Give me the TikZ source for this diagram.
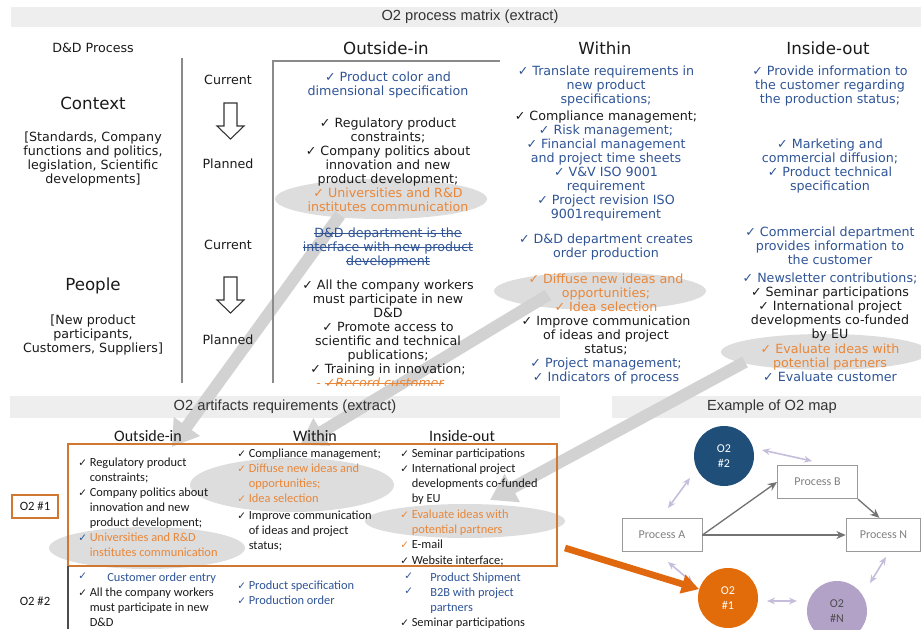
\documentclass[tikz,border=0pt]{standalone}
\usepackage{fontspec}
\setmainfont{DejaVu Sans}
\newfontfamily\dv{DejaVu Sans}
\newfontfamily\carl{Carlito}
\newfontfamily\arl{Liberation Sans}
\usetikzlibrary{arrows.meta}
\definecolor{bl}{HTML}{2F5496}
\definecolor{org}{HTML}{E8873A}
\definecolor{txt}{HTML}{1A1A1A}
\definecolor{ttxt}{HTML}{333333}
\definecolor{bandc}{HTML}{EEEEEE}
\definecolor{ellc}{HTML}{DDDDDD}
\definecolor{garrow}{HTML}{D2D2D2}
\definecolor{oboxc}{HTML}{D2772F}
\definecolor{oarrow}{HTML}{E0680F}
\definecolor{ctwo}{HTML}{1F4E79}
\definecolor{cone}{HTML}{E36C0A}
\definecolor{cenn}{HTML}{B3A2C7}
\definecolor{parr}{HTML}{C5BDDB}
\definecolor{procl}{HTML}{9A9A9A}
\definecolor{proct}{HTML}{808080}
\definecolor{gridc}{HTML}{8A8A8A}
\newcommand\mychk{{\dv\fontsize{7.8}{8}\selectfont ✓}}
\newcommand\mystrike[1]{\setbox0=\hbox{#1}\rlap{\rule[0.28em]{\wd0}{0.07em}}\box0}
\begin{document}
\begin{tikzpicture}[x=0.75pt,y=-0.75pt,
  mt/.style={font=\dv\fontsize{9.5}{10.5}\selectfont, align=center, inner sep=0pt, anchor=north, text=txt, yshift=-1.5pt},
  cp/.style={font=\dv\fontsize{9.5}{10.5}\selectfont, inner sep=0pt, text=txt},
  hd/.style={font=\dv\fontsize{12.5}{14}\selectfont, inner sep=0pt, text=txt},
  lt/.style={font=\carl\fontsize{9.3}{11.25}\selectfont, align=left, inner sep=0pt, anchor=north west, text=txt, yshift=-1.5pt},
  lh/.style={font=\carl\fontsize{12}{14}\selectfont, inner sep=0pt, text=txt},
  ttl/.style={font=\arl\fontsize{11}{13}\selectfont, text=ttxt, inner sep=0pt},
  gridl/.style={draw=gridc, line width=1.1pt},
  bigarrow/.style={draw=garrow, line width=9pt, -{Triangle[length=19pt,width=23pt]}},
  darr/.style={draw=black!80, line width=0.8pt, fill=white},
  proc/.style={draw=procl, fill=white, line width=0.7pt, minimum width=60pt, minimum height=25pt, inner sep=0pt, font=\carl\fontsize{9}{10}\selectfont, text=proct},
  oc/.style={circle, inner sep=0pt, minimum size=45pt, align=center, font=\carl\fontsize{9}{11}\selectfont, text=white},
  parrow/.style={draw=parr, line width=1.2pt, {Stealth[length=6pt,width=5pt]}-{Stealth[length=6pt,width=5pt]}},
  garr/.style={draw=black!55, line width=1pt, -{Stealth[length=7pt,width=6pt]}}
]
\useasboundingbox (0,0) rectangle (921,629);
% bands
\fill[bandc] (11,7) rectangle (921,27);
\fill[bandc] (10,396) rectangle (560,418);
\fill[bandc] (612,396) rectangle (921,418);
% ellipses
\fill[ellc] (381,199) ellipse [x radius=106, y radius=20];
\fill[ellc] (600,291) ellipse [x radius=106, y radius=19];
\fill[ellc] (825,352) ellipse [x radius=104, y radius=18];
\fill[ellc] (147,548) ellipse [x radius=98, y radius=21];
\fill[ellc] (292,485) ellipse [x radius=102, y radius=27];
\fill[ellc] (465,521) ellipse [x radius=100, y radius=17];
% big grey arrows
\coordinate (ga1s) at (340,215); \coordinate (ga1e) at (172,447);
\coordinate (ga2s) at (548,295); \coordinate (ga2e) at (300,445);
\coordinate (ga3s) at (745,362); \coordinate (ga3e) at (490,500);
\draw[bigarrow] (ga1s) -- (ga1e);
\draw[bigarrow] (ga2s) -- (ga2e);
\draw[bigarrow] (ga3s) -- (ga3e);
% titles
\node[ttl] (t1) at (470,17) {O2 process matrix (extract)};
\node[ttl] (t2) at (285,407) {O2 artifacts requirements (extract)};
\node[ttl] (t3) at (772,407) {Example of O2 map};
% headers
\node[cp] (dd) at (93,48) {D\&D Process};
\node[hd] (hOI) at (386,48) {Outside-in};
\node[hd] (hW) at (605,48) {Within};
\node[hd] (hIO) at (828,48) {Inside-out};
% grid lines
\draw[gridl] (182,58) -- (182,383);
\draw[gridl] (273,383) -- (273,61) -- (500,61);
% left column
\node[hd] (ctx) at (93,103) {Context};
\node[mt] (ctxd) at (93,130) {[Standards, Company\\functions and politics,\\legislation, Scientific\\developments]};
\node[hd] (ppl) at (93,286) {People};
\node[mt] (ppld) at (93,313) {[New product\\participants,\\Customers, Suppliers]};
\node[cp] (cur1) at (228,80) {Current};
\node[cp] (pl1) at (228,164) {Planned};
\node[cp] (cur2) at (228,245) {Current};
\node[cp] (pl2) at (228,340) {Planned};
\draw[darr] (224,103) -- (237,103) -- (237,126) -- (244,126) -- (230.5,139) -- (217,126) -- (224,126) -- cycle;
\draw[darr] (224,277) -- (237,277) -- (237,300) -- (244,300) -- (230.5,313) -- (217,300) -- (224,300) -- cycle;
% Outside-in column
\node[mt, text=bl] (oa) at (388,70) {✓ Product color and\\dimensional specification};
\node[mt] (ob) at (388,116) {✓ Regulatory product\\constraints;\\✓ Company politics about\\innovation and new\\product development;};
\node[mt, text=org] (oc) at (388,186) {✓ Universities and R\&D\\institutes communication};
\node[mt, text=bl] (od) at (388,226) {\mystrike{D\&D department is the}\\\mystrike{interface with new product}\\\mystrike{development}};
\node[mt] (oe) at (388,278) {✓ All the company workers\\must participate in new\\D\&D\\✓ Promote access to\\scientific and technical\\publications;\\✓ Training in innovation;};
\begin{scope}
\clip (280,372) rectangle (500,385);
\node[mt, text=org] (of) at (380,376) {- \mystrike{\itshape ✓Record customer}};
\end{scope}
% Within column
\node[mt, text=bl] (wa) at (606,64) {✓ Translate requirements in\\new product\\specifications;};
\node[mt] (wb) at (606,109) {✓ Compliance management;};
\node[mt, text=bl] (wc) at (606,123) {✓ Risk management;\\✓ Financial management\\and project time sheets\\✓ V\&V ISO 9001\\requirement\\✓ Project revision ISO\\9001requirement};
\node[mt, text=bl] (wd) at (606,232) {✓ D\&D department creates\\order production};
\node[mt, text=org] (we) at (606,272) {✓ Diffuse new ideas and\\opportunities;\\✓ Idea selection};
\node[mt] (wf) at (606,314) {✓ Improve communication\\of ideas and project\\status;};
\node[mt, text=bl] (wg) at (606,356) {✓ Project management;\\✓ Indicators of process};
% Inside-out column
\node[mt, text=bl] (ia) at (830,64) {✓ Provide information to\\the customer regarding\\the production status;};
\node[mt, text=bl] (ib) at (830,137) {✓ Marketing and\\commercial diffusion;\\✓ Product technical\\specification};
\node[mt, text=bl] (ic) at (830,225) {✓ Commercial department\\provides information to\\the customer};
\node[mt, text=bl] (id) at (830,271) {✓ Newsletter contributions;};
\node[mt] (ie) at (830,285) {✓ Seminar participations\\✓ International project\\developments co-funded\\by EU};
\node[mt, text=org] (if) at (830,342) {✓ Evaluate ideas with\\potential partners};
\node[mt, text=bl] (ig) at (830,370) {✓ Evaluate customer};
% lower table headers
\node[lh] (lhO) at (148,436) {Outside-in};
\node[lh] (lhW) at (315,436) {Within};
\node[lh] (lhI) at (462,436) {Inside-out};
\draw[draw=oboxc, line width=1.3pt] (68,444) rectangle (557,566);
\draw[draw=black!70, line width=0.8pt] (68,566) -- (68,629);
\node[draw=oboxc, line width=1.1pt, minimum width=34.5pt, minimum height=17pt, inner sep=0pt, font=\carl\fontsize{9.5}{11}\selectfont, text=txt] (r1) at (35,506.5) {O2 \#1};
\node[font=\carl\fontsize{9.5}{11}\selectfont, text=txt, inner sep=0pt] (r2) at (35,601) {O2 \#2};
% lower table O2 #1
\node[lt] (l1) at (78,456) {\mychk\ Regulatory product\\\hphantom{\mychk\ }constraints;\\\mychk\ Company politics about\\\hphantom{\mychk\ }innovation and new\\\hphantom{\mychk\ }product development;};
\node[lt, text=org] (l2) at (78,531) {\textcolor{bl}{\mychk}\ Universities and R\&D\\\hphantom{\mychk\ }institutes communication};
\node[lt] (l3) at (237,447) {\mychk\ Compliance management;};
\node[lt, text=org] (l4) at (237,462) {\mychk\ Diffuse new ideas and\\\hphantom{\mychk\ }opportunities;\\\mychk\ Idea selection};
\node[lt] (l5) at (237,509) {\mychk\ Improve communication\\\hphantom{\mychk\ }of ideas and project\\\hphantom{\mychk\ }status;};
\node[lt] (l6) at (400,447) {\mychk\ Seminar participations\\\mychk\ International project\\\hphantom{\mychk\ }developments co-funded\\\hphantom{\mychk\ }by EU};
\node[lt, text=org] (l7) at (400,508) {\mychk\ Evaluate ideas with\\\hphantom{\mychk\ }potential partners\\\mychk\ \textcolor{txt}{E-mail}};
\node[lt] (l8) at (400,554) {\mychk\ Website interface;};
% lower table O2 #2
\node[lt, text=bl] (m1) at (78,571) {\mychk};
\node[lt, text=bl] (m2) at (107,571) {Customer order entry};
\node[lt] (m3) at (78,586) {\mychk\ All the company workers\\\hphantom{\mychk\ }must participate in new\\\hphantom{\mychk\ }D\&D};
\node[lt, text=bl] (m4) at (237,579) {\mychk\ Product specification\\\mychk\ Production order};
\node[lt, text=bl] (m5) at (404,571) {\mychk};
\node[lt, text=bl] (m6) at (404,586) {\mychk};
\node[lt, text=bl] (m7) at (430,571) {Product Shipment};
\node[lt, text=bl] (m8) at (430,586) {B2B with project\\partners};
\node[lt] (m9) at (400,616) {\mychk\ Seminar participations};
% map
\node[oc, fill=ctwo] (c2) at (724,456) {O2\\\#2};
\node[proc] (pB) at (817.5,482) {Process B};
\node[proc] (pA) at (662,535) {Process A};
\node[proc, minimum width=56pt] (pN) at (883.5,535) {Process N};
\node[oc, fill=cone] (c1) at (728,598) {O2\\\#1};
\node[oc, fill=cenn, text=black!70] (cN) at (837,611) {O2\\\#N};
\draw[garr] (pA.east) -- (pB.west);
\draw[garr] (pA.east) -- (pN.west);
\draw[garr] (pB.south east) -- ([xshift=-3pt]pN.north);
\coordinate (p1a) at (762,450); \coordinate (p1b) at (812,461);
\coordinate (p2a) at (690,478); \coordinate (p2b) at (668,508);
\coordinate (p3a) at (668,562); \coordinate (p3b) at (693,583);
\coordinate (p4a) at (767,601); \coordinate (p4b) at (797,601);
\coordinate (p5a) at (870,583); \coordinate (p5b) at (886,557);
\draw[parrow] (p1a) -- (p1b);
\draw[parrow] (p2a) -- (p2b);
\draw[parrow] (p3a) -- (p3b);
\draw[parrow] (p4a) -- (p4b);
\draw[parrow] (p5a) -- (p5b);
\coordinate (oas) at (565,548);
\draw[draw=oarrow, line width=5pt, -{Triangle[length=13pt,width=14pt]}] (oas) -- (c1);
\end{tikzpicture}
\end{document}
